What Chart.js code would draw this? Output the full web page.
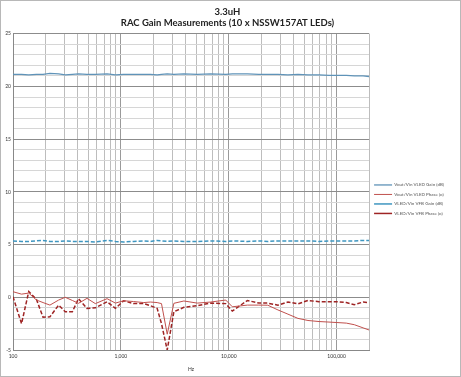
<!DOCTYPE html>
<html>
<head>
<meta charset="utf-8">
<script src="https://cdn.jsdelivr.net/npm/chart.js@4.4.0/dist/chart.umd.min.js"></script>
<style>
  html, body { margin: 0; padding: 0; background: #fff; }
  #wrap { position: relative; width: 461px; height: 377px; box-sizing: border-box; border: 1px solid #b8b8b8; }
</style>
</head>
<body>
<div id="wrap"><canvas id="chart"></canvas></div>
<script>
// frequencies (Hz) shared by all four traces
const freqs = [100, 120, 140, 165, 190, 220, 265, 305, 355, 405, 485, 580, 745, 890, 1060, 1310, 1630, 1880, 2170, 2380,
  2690, 3100, 3840, 5110, 6800, 9380, 10800, 14900, 19000, 23000, 28600, 35400, 43800, 54300, 68700, 85000,
  103000, 123000, 146000, 176000, 200000];

const voutGain = [21.15, 21.15, 21.1, 21.15, 21.15, 21.25, 21.2, 21.1, 21.15, 21.2, 21.15, 21.15, 21.2, 21.1, 21.15, 21.15,
  21.15, 21.15, 21.1, 21.15, 21.2, 21.15, 21.2, 21.15, 21.2, 21.15, 21.2, 21.2, 21.15, 21.15, 21.15, 21.1, 21.15, 21.1,
  21.1, 21.05, 21.05, 21.05, 21.0, 21.0, 20.95];

const voutPhase = [0.53, 0.3, 0.4, -0.26, -0.5, -0.74, -0.26, 0.0, -0.3, -0.57, -0.1, -0.6, -0.13, -0.55, -0.33, -0.4,
  -0.5, -0.45, -0.5, -0.6, -3.5, -0.57, -0.35, -0.55, -0.45, -0.26, -0.9, -0.74, -0.74, -0.75, -1.2, -1.6, -2.0, -2.2,
  -2.3, -2.35, -2.4, -2.45, -2.6, -2.9, -3.1];

const vledGain = [5.35, 5.3, 5.3, 5.35, 5.4, 5.3, 5.3, 5.35, 5.3, 5.3, 5.3, 5.25, 5.4, 5.3, 5.25, 5.3, 5.35, 5.3, 5.4,
  5.35, 5.3, 5.35, 5.3, 5.3, 5.35, 5.3, 5.35, 5.3, 5.35, 5.3, 5.35, 5.35, 5.35, 5.35, 5.3, 5.35, 5.35, 5.35, 5.35, 5.4, 5.4];

const vledPhase = [0.05, -2.5, 0.55, -0.2, -1.9, -1.85, -0.74, -1.37, -1.37, -0.13, -1.05, -1.0, -0.42, -1.05, -0.33, -0.6,
  -0.6, -0.8, -1.05, -2.5, -5.0, -1.37, -0.95, -0.8, -0.55, -0.6, -1.3, -0.3, -0.55, -0.55, -0.75, -0.45, -0.62, -0.3,
  -0.42, -0.42, -0.42, -0.5, -0.7, -0.45, -0.5];

const seriesNames = ["Vout/Vin VLED Gain (dB)", "Vout/Vin VLED Phase (o)", "VLED/Vin VFB Gain (dB)", "VLED/Vin VFB Phase (o)"];

const xLabelValues = [100, 1000, 10000, 100000];
const xLabels = ["100", "1,000", "10,000", "100,000"];
const yMin = -5, yMax = 25;

// gridline positions on the log axis: 1..9 in every decade
const xGrid = [];
[100, 1000, 10000, 100000].forEach(d => {
  for (let m = 1; m <= 9; m++) if (d * m <= 200000) xGrid.push(d * m);
});

const pts = arr => freqs.map((f, i) => ({ x: f, y: arr[i] }));

const FONT = "Lato, 'Open Sans', sans-serif";

new Chart(document.getElementById("chart"), {
  type: "line",
  data: {
    datasets: [
      { label: seriesNames[0], data: pts(voutGain), borderColor: "#5f93b8", borderWidth: 1.3 },
      { label: seriesNames[1], data: pts(voutPhase), borderColor: "#c0504d", borderWidth: 1 },
      { label: seriesNames[2], data: pts(vledGain), borderColor: "#3f96c0", borderWidth: 1.5, borderDash: [4, 2] },
      { label: seriesNames[3], data: pts(vledPhase), borderColor: "#9e2424", borderWidth: 1.5, borderDash: [4, 2] },
    ],
  },
  options: {
    responsive: true,
    maintainAspectRatio: false,
    animation: false,
    elements: { point: { radius: 0 }, line: { tension: 0 } },
    layout: { padding: { left: 0, right: 6, top: 0, bottom: 0 } },
    plugins: {
      title: {
        display: true,
        text: ["3.3uH", "RAC Gain Measurements (10 x NSSW157AT LEDs)"],
        color: "#222",
        font: { family: FONT, size: 9.5, weight: "bold", lineHeight: 1.2 },
        padding: { top: 5, bottom: 5 },
      },
      legend: {
        position: "right",
        title: { display: true, text: " ", font: { size: 4.5 }, padding: { top: 8, bottom: 8 } },
        labels: {
          usePointStyle: true,
          pointStyle: "line",
          pointStyleWidth: 18,
          boxWidth: 18,
          boxHeight: 4,
          padding: 5,
          color: "#555",
          font: { family: FONT, size: 4.5 },
        },
      },
      tooltip: { enabled: false },
    },
    scales: {
      x: {
        type: "logarithmic",
        min: 100,
        max: 200000,
        afterBuildTicks: s => { s.ticks = xGrid.concat([200000]).map(v => ({ value: v })); },
        afterFit: s => { s.height = 26; },
        ticks: {
          autoSkip: false,
          maxRotation: 0,
          padding: 3,
          color: "#333",
          font: { family: FONT, size: 5 },
          callback: v => {
            const i = xLabelValues.indexOf(v);
            return i >= 0 ? xLabels[i] : "";
          },
        },
        grid: {
          drawTicks: false,
          color: ctx => (ctx.tick && xLabelValues.includes(ctx.tick.value) ? "#9a9a9a" : "#bdbdbd"),
        },
        border: { color: "#888" },
        title: { display: true, text: "Hz", color: "#333", font: { family: FONT, size: 5 }, padding: { top: 4 } },
      },
      y: {
        min: yMin,
        max: yMax,
        afterFit: s => { s.width = 12; },
        ticks: {
          stepSize: 1,
          autoSkip: false,
          padding: 2,
          color: "#333",
          font: { family: FONT, size: 5 },
          callback: v => (v % 5 === 0 ? String(v) : ""),
        },
        grid: {
          drawTicks: false,
          color: ctx => (ctx.tick && ctx.tick.value % 5 === 0 ? "#8c8c8c" : "#d6d6d6"),
        },
        border: { color: "#888" },
      },
    },
  },
});
</script>
</body>
</html>
